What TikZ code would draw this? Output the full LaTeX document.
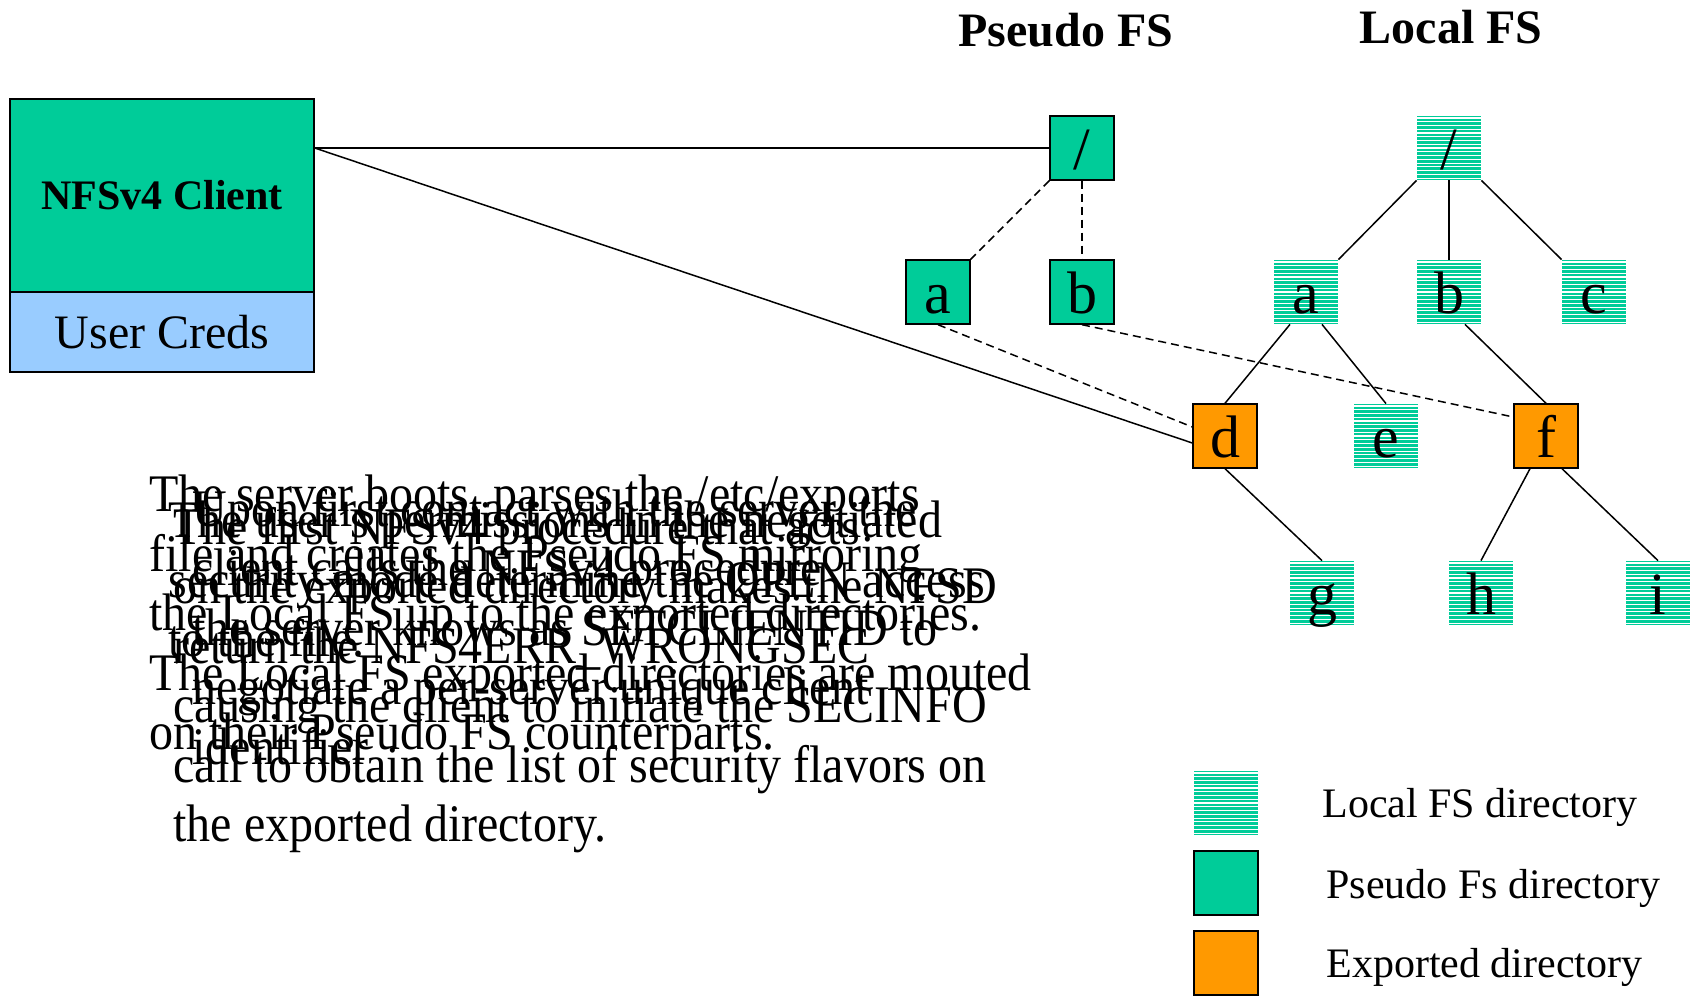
\documentclass[tikz,border=0pt]{standalone}
\usepackage{fontspec}
\usepackage{graphicx}
\setmainfont{Liberation Serif}
\definecolor{teal1}{RGB}{0,204,153}
\definecolor{orange1}{RGB}{255,153,0}
\definecolor{creds}{RGB}{153,204,255}
\tikzset{
  bodytext/.style={anchor=base west, inner sep=0pt, font=\fontsize{24}{28}\selectfont},
  dirbox/.style={minimum width=32pt, minimum height=32pt, inner sep=0pt, text height=24pt, text depth=2pt, font=\fontsize{30}{32}\selectfont},
  pseudobox/.style={dirbox, fill=teal1, draw=black, line width=0.7pt},
  exportbox/.style={dirbox, fill=orange1, draw=black, line width=0.7pt},
  localbox/.style={dirbox, fill=teal1, path picture={
      \foreach \yy in {1.0,2.88,...,31.2}{
        \draw[white,line width=0.6pt] ([yshift=-\yy pt]path picture bounding box.north west) -- ([yshift=-\yy pt]path picture bounding box.north east);}}},
  link/.style={line width=0.75pt},
  dlink/.style={line width=0.75pt, dash pattern=on 4pt off 2.5pt},
  legendtext/.style={anchor=west, inner sep=0pt, font=\fontsize{21}{24}\selectfont},
  titletext/.style={inner sep=0pt, font=\bfseries\fontsize{24}{28}\selectfont},
}
\newcommand\parablock[4]{\foreach \ln [count=\i from 0] in {#4}{\node[bodytext] (#1\i) at (#2,{#3+59.5*\i}) {\scalebox{1}[1.1]{\ln}};}}
\begin{document}
\begin{tikzpicture}[x=0.5pt,y=-0.5pt]
\useasboundingbox (0,0) rectangle (1694,999);

% client
\node[draw, fill=teal1, minimum width=152pt, minimum height=96.5pt, inner sep=0pt, line width=0.7pt, font=\bfseries\fontsize{21}{24}\selectfont] (client) at (162,195.5) {NFSv4 Client};
\node[draw, fill=creds, minimum width=152pt, minimum height=40pt, inner sep=0pt, line width=0.7pt, font=\fontsize{24}{28}\selectfont] (creds) at (162,332) {User Creds};

% titles
\node[titletext] (tpseudo) at (1066,30) {Pseudo FS};
\node[titletext] (tlocal) at (1451,27) {Local FS};

% pseudo fs
\node[pseudobox] (pr) at (1082,148) {/};
\node[pseudobox] (pa) at (938,292) {a};
\node[pseudobox] (pb) at (1082,292) {b};

% local fs
\node[localbox] (lr) at (1449,148) {/};
\node[localbox] (la) at (1306,292) {a};
\node[localbox] (lb) at (1449,292) {b};
\node[localbox] (lc) at (1594,292) {c};
\node[exportbox] (ld) at (1225,436) {d};
\node[localbox] (le) at (1386,436) {e};
\node[exportbox] (lf) at (1546,436) {f};
\node[localbox] (lg) at (1322,593) {g};
\node[localbox] (lh) at (1481,593) {h};
\node[localbox] (li) at (1658,593) {i};

% connectors
\draw[link] (pr.west) -- (pr.west -| client.east);
\draw[link] (pr.west -| client.east) -- ([yshift=-3.5pt]ld.west);
\draw[dlink] (pr.south west) -- (pa.north east);
\draw[dlink] (pr.south) -- (pb.north);
\draw[dlink] (pa.south) -- ([yshift=4.5pt]ld.west);
\draw[dlink] (pb.south) -- ([yshift=9.5pt]lf.west);
\draw[link] (lr.south west) -- (la.north east);
\draw[link] (lr.south) -- (lb.north);
\draw[link] (lr.south east) -- (lc.north west);
\draw[link] ([xshift=-8pt]la.south) -- (ld.north);
\draw[link] ([xshift=8pt]la.south) -- (le.north);
\draw[link] ([xshift=8pt]lb.south) -- (lf.north);
\draw[link] (ld.south) -- (lg.north);
\draw[link] ([xshift=-8pt]lf.south) -- (lh.north);
\draw[link] ([xshift=8pt]lf.south) -- (li.north);

% legend
\node[localbox] (kl) at (1226,803) {};
\node[pseudobox] (kp) at (1226,883) {};
\node[exportbox] (ke) at (1226,963) {};
\node[legendtext] (klt) at (1322,807) {Local FS directory};
\node[legendtext] (kpt) at (1326,888) {Pseudo Fs directory};
\node[legendtext] (ket) at (1326,967) {Exported directory};

% overlapping text blocks
\parablock{A}{149}{512}{{The server boots, parses the /etc/exports},{file and creates the Pseudo FS mirroring},{the Local FS up to the exported directories.},{The Local FS exported directories are mouted},{on their Pseudo FS counterparts.}}
\parablock{B}{173}{544.5}{{The first NFSv4 procedure that acts},{on the exported directory makes the NFSD},{return the NFS4ERR\_WRONGSEC},{causing the client to initiate the SECINFO},{call to obtain the list of security flavors on},{the exported directory.}}
\parablock{C}{192}{526.5}{{Upon first contact with the server, the},{client calls the NFSv4 procedure},{the server knows as SETCLIENTID to},{negotiate a per-server unique client},{identifier}}
\parablock{D}{168}{538}{{The user's permissions in the negotiated},{security mode determine the OPEN access},{to the file.}}
\end{tikzpicture}
\end{document}
